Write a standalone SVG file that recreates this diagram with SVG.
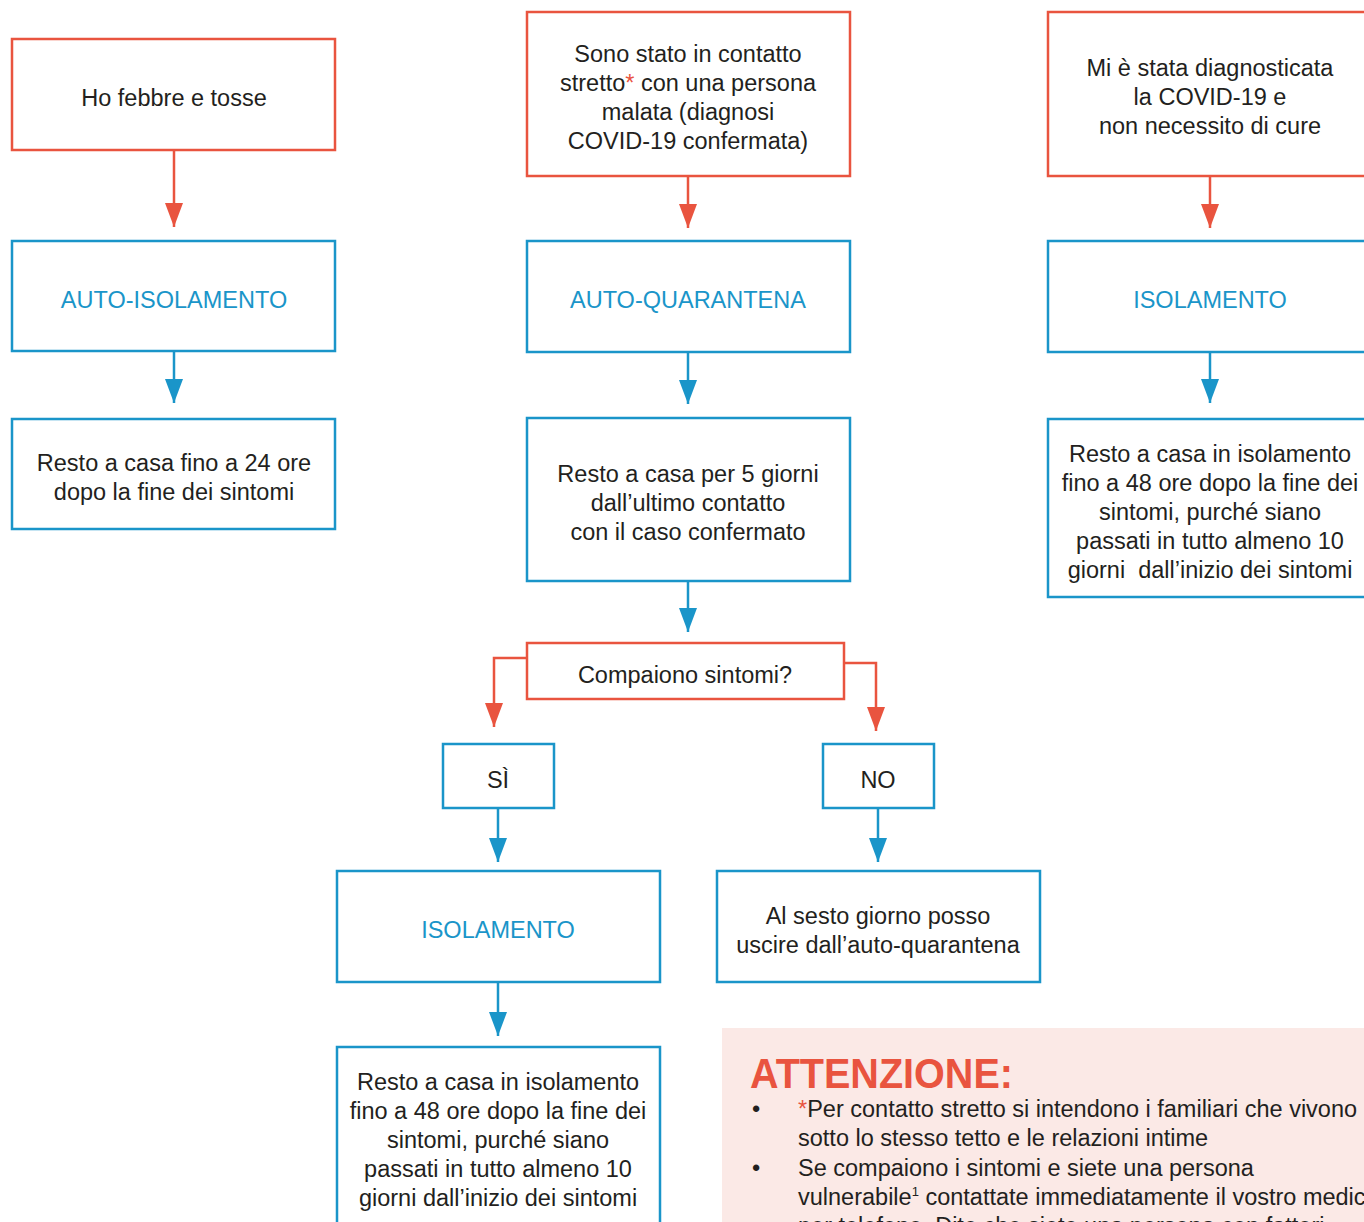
<svg xmlns="http://www.w3.org/2000/svg" width="1364" height="1222" viewBox="0 0 1364 1222">
<style>
.box{fill:#fff;stroke-width:2.5}
.r{stroke:#E9543F}
.b{stroke:#1A95C9}
.t{font-family:"Liberation Sans",Arial,sans-serif;font-size:23.5px;fill:#231F20;text-anchor:middle}
.bt{font-family:"Liberation Sans",Arial,sans-serif;font-size:23.5px;fill:#1A95C9;text-anchor:middle}
.lt{font-family:"Liberation Sans",Arial,sans-serif;font-size:23.5px;fill:#231F20}
.star{fill:#E9543F}
.cr{fill:none;stroke:#E9543F;stroke-width:2.5}
.cb{fill:none;stroke:#1A95C9;stroke-width:2.5}
</style>
<defs>
<marker id="ar" viewBox="0 0 24 18" refX="24" refY="9" markerWidth="24" markerHeight="18" markerUnits="userSpaceOnUse" orient="auto"><path d="M0,0 L24,9 L0,18 z" fill="#E9543F"/></marker>
<marker id="ab" viewBox="0 0 24 18" refX="24" refY="9" markerWidth="24" markerHeight="18" markerUnits="userSpaceOnUse" orient="auto"><path d="M0,0 L24,9 L0,18 z" fill="#1A95C9"/></marker>
</defs>
<rect width="1364" height="1222" fill="#fff"/>

<g id="connectors">
<path class="cr" d="M174,150 V227" marker-end="url(#ar)"/>
<path class="cb" d="M174,351 V403" marker-end="url(#ab)"/>
<path class="cr" d="M688,176 V228" marker-end="url(#ar)"/>
<path class="cb" d="M688,352 V404" marker-end="url(#ab)"/>
<path class="cb" d="M688,581 V632" marker-end="url(#ab)"/>
<path class="cr" d="M1210,176 V228" marker-end="url(#ar)"/>
<path class="cb" d="M1210,352 V403" marker-end="url(#ab)"/>
<path class="cr" d="M527,658 H494 V727" marker-end="url(#ar)"/>
<path class="cr" d="M844,663 H876 V731" marker-end="url(#ar)"/>
<path class="cb" d="M498,808 V862" marker-end="url(#ab)"/>
<path class="cb" d="M878,808 V862" marker-end="url(#ab)"/>
<path class="cb" d="M498,982 V1036" marker-end="url(#ab)"/>
</g>

<g id="febbre">
<rect class="box r" x="12" y="39" width="323" height="111"/>
<text class="t" x="174" y="106">Ho febbre e tosse</text>
</g>
<g id="auto-isolamento">
<rect class="box b" x="12" y="241" width="323" height="110"/>
<text class="bt" x="174" y="308">AUTO-ISOLAMENTO</text>
</g>
<g id="resto24">
<rect class="box b" x="12" y="419" width="323" height="110"/>
<text class="t" x="174" y="471">Resto a casa fino a 24 ore</text>
<text class="t" x="174" y="500">dopo la fine dei sintomi</text>
</g>

<g id="contatto">
<rect class="box r" x="527" y="12" width="323" height="164"/>
<text class="t" x="688" y="62">Sono stato in contatto</text>
<text class="t" x="688" y="91">stretto<tspan class="star">*</tspan> con una persona</text>
<text class="t" x="688" y="120">malata (diagnosi</text>
<text class="t" x="688" y="149">COVID-19 confermata)</text>
</g>
<g id="auto-quarantena">
<rect class="box b" x="527" y="241" width="323" height="111"/>
<text class="bt" x="688" y="308">AUTO-QUARANTENA</text>
</g>
<g id="resto5">
<rect class="box b" x="527" y="418" width="323" height="163"/>
<text class="t" x="688" y="482">Resto a casa per 5 giorni</text>
<text class="t" x="688" y="511">dall’ultimo contatto</text>
<text class="t" x="688" y="540">con il caso confermato</text>
</g>
<g id="compaiono">
<rect class="box r" x="527" y="643" width="317" height="56"/>
<text class="t" x="685" y="683">Compaiono sintomi?</text>
</g>
<g id="si">
<rect class="box b" x="443" y="744" width="111" height="64"/>
<text class="t" x="498" y="788">SÌ</text>
</g>
<g id="no">
<rect class="box b" x="823" y="744" width="111" height="64"/>
<text class="t" x="878" y="788">NO</text>
</g>
<g id="isolamento-si">
<rect class="box b" x="337" y="871" width="323" height="111"/>
<text class="bt" x="498" y="938">ISOLAMENTO</text>
</g>
<g id="sesto">
<rect class="box b" x="717" y="871" width="323" height="111"/>
<text class="t" x="878" y="924">Al sesto giorno posso</text>
<text class="t" x="878" y="953">uscire dall’auto-quarantena</text>
</g>
<g id="resto48-si">
<rect class="box b" x="337" y="1047" width="323" height="200"/>
<text class="t" x="498" y="1090">Resto a casa in isolamento</text>
<text class="t" x="498" y="1119">fino a 48 ore dopo la fine dei</text>
<text class="t" x="498" y="1148">sintomi, purché siano</text>
<text class="t" x="498" y="1177">passati in tutto almeno 10</text>
<text class="t" x="498" y="1206">giorni dall’inizio dei sintomi</text>
</g>

<g id="diagnosticata">
<rect class="box r" x="1048" y="12" width="324" height="164"/>
<text class="t" x="1210" y="76">Mi è stata diagnosticata</text>
<text class="t" x="1210" y="105">la COVID-19 e</text>
<text class="t" x="1210" y="134">non necessito di cure</text>
</g>
<g id="isolamento">
<rect class="box b" x="1048" y="241" width="324" height="111"/>
<text class="bt" x="1210" y="308">ISOLAMENTO</text>
</g>
<g id="resto48">
<rect class="box b" x="1048" y="419" width="324" height="178"/>
<text class="t" x="1210" y="462">Resto a casa in isolamento</text>
<text class="t" x="1210" y="491">fino a 48 ore dopo la fine dei</text>
<text class="t" x="1210" y="520">sintomi, purché siano</text>
<text class="t" x="1210" y="549">passati in tutto almeno 10</text>
<text class="t" x="1210" y="578">giorni&#160; dall’inizio dei sintomi</text>
</g>

<g id="attenzione">
<rect x="722" y="1028" width="660" height="220" fill="#FBE9E6"/>
<text x="750" y="1088" font-family="'Liberation Sans',Arial,sans-serif" font-weight="bold" font-size="43" fill="#E9543F" textLength="263" lengthAdjust="spacingAndGlyphs">ATTENZIONE:</text>
<text class="lt" x="752" y="1117">•</text>
<text class="lt" x="798" y="1117"><tspan class="star">*</tspan>Per contatto stretto si intendono i familiari che vivono</text>
<text class="lt" x="798" y="1146">sotto lo stesso tetto e le relazioni intime</text>
<text class="lt" x="752" y="1176">•</text>
<text class="lt" x="798" y="1176">Se compaiono i sintomi e siete una persona</text>
<text class="lt" x="798" y="1205">vulnerabile<tspan font-size="13" dy="-9">1</tspan><tspan dy="9"> contattate immediatamente il vostro medico</tspan></text>
<text class="lt" x="798" y="1234">per telefono. Dite che siete una persona con fattori</text>
</g>
</svg>
